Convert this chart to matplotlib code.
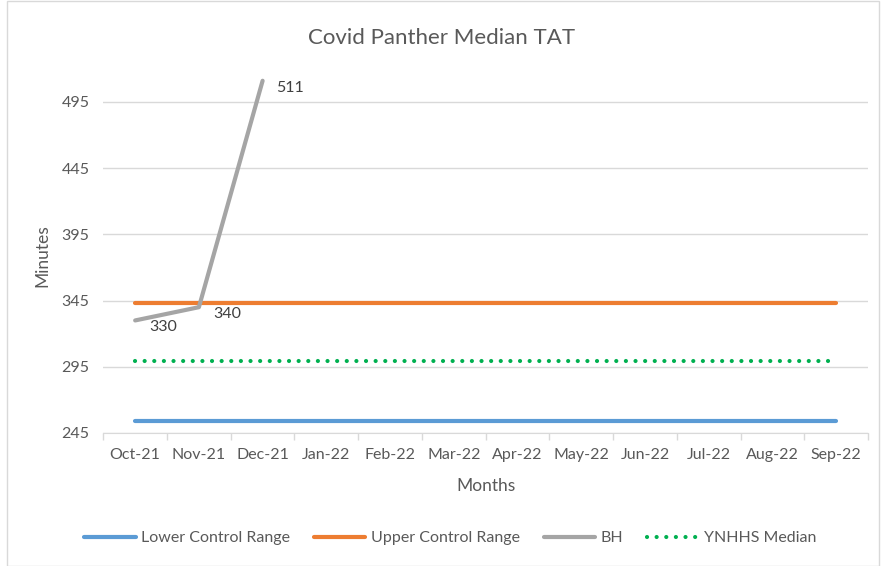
import numpy as np
import matplotlib.pyplot as plt
from matplotlib.patches import Rectangle

plt.rcParams['font.family'] = ['Lato', 'DejaVu Sans']

months = ["Oct-21", "Nov-21", "Dec-21", "Jan-22", "Feb-22", "Mar-22",
          "Apr-22", "May-22", "Jun-22", "Jul-22", "Aug-22", "Sep-22"]
lower_range = [254] * 12
upper_range = [343] * 12
bh = [330, 340, 511] + [np.nan] * 9
ynhhs_median = [299] * 12
y_ticks = [245, 295, 345, 395, 445, 495]

text_col = "#595959"
x = np.arange(len(months))

fig = plt.figure(figsize=(8.83, 5.66), dpi=100)
ax = fig.add_axes([0.117, 0.235, 0.866, 0.627])

ax.plot(x, lower_range, color="#5B9BD5", lw=3, solid_capstyle="round",
        label="Lower Control Range")
ax.plot(x, upper_range, color="#ED7D31", lw=3, solid_capstyle="round",
        label="Upper Control Range")
ax.plot(x, bh, color="#A5A5A5", lw=3, solid_capstyle="round",
        solid_joinstyle="round", label="BH")
ax.plot(x, ynhhs_median, color="#00B050", lw=3, linestyle=(0, (0.01, 2.3)),
        dash_capstyle="round", label="YNHHS Median")

# data labels for the BH series
for xi, v in zip(x, bh):
    if not np.isnan(v):
        ax.annotate(f"{v:.0f}", (xi, v), xytext=(10, -5), textcoords="offset points",
                    ha="left", va="center", fontsize=11.5, color="#404040")

ax.set_xlim(-0.5, 11.5)
ax.set_ylim(245, 513)
ax.set_yticks(y_ticks)
ax.set_xticks(x)
ax.set_xticklabels(months)
ax.set_xticks(np.arange(-0.5, 12, 1), minor=True)
ax.tick_params(axis="x", which="major", length=0, pad=11, labelsize=11.5, labelcolor=text_col)
ax.tick_params(axis="x", which="minor", length=5, color="#D9D9D9", width=1)
ax.tick_params(axis="y", length=0, pad=10, labelsize=11.5, labelcolor=text_col)
ax.grid(axis="y", color="#D9D9D9", lw=1)
ax.set_axisbelow(True)
for side in ["left", "right", "top"]:
    ax.spines[side].set_visible(False)
ax.spines["bottom"].set_color("#D9D9D9")

ax.set_xlabel("Months", fontsize=12.5, color=text_col, labelpad=11)
ax.set_ylabel("Minutes", fontsize=12.5, color=text_col, labelpad=8)
fig.text(0.5, 0.932, "Covid Panther Median TAT", ha="center", va="center",
         fontsize=16, color=text_col)

fig.legend(loc="center", bbox_to_anchor=(0.51, 0.049), ncol=4, frameon=False,
           handlelength=3.2, columnspacing=1.5, handletextpad=0.35,
           fontsize=11.5, labelcolor=text_col)

# chart frame
fig.patches.append(Rectangle((0.008, 0.0), 0.988, 0.998, transform=fig.transFigure,
                             fill=False, edgecolor="#D9D9D9", lw=1))

fig.savefig("out.png", dpi=100)
